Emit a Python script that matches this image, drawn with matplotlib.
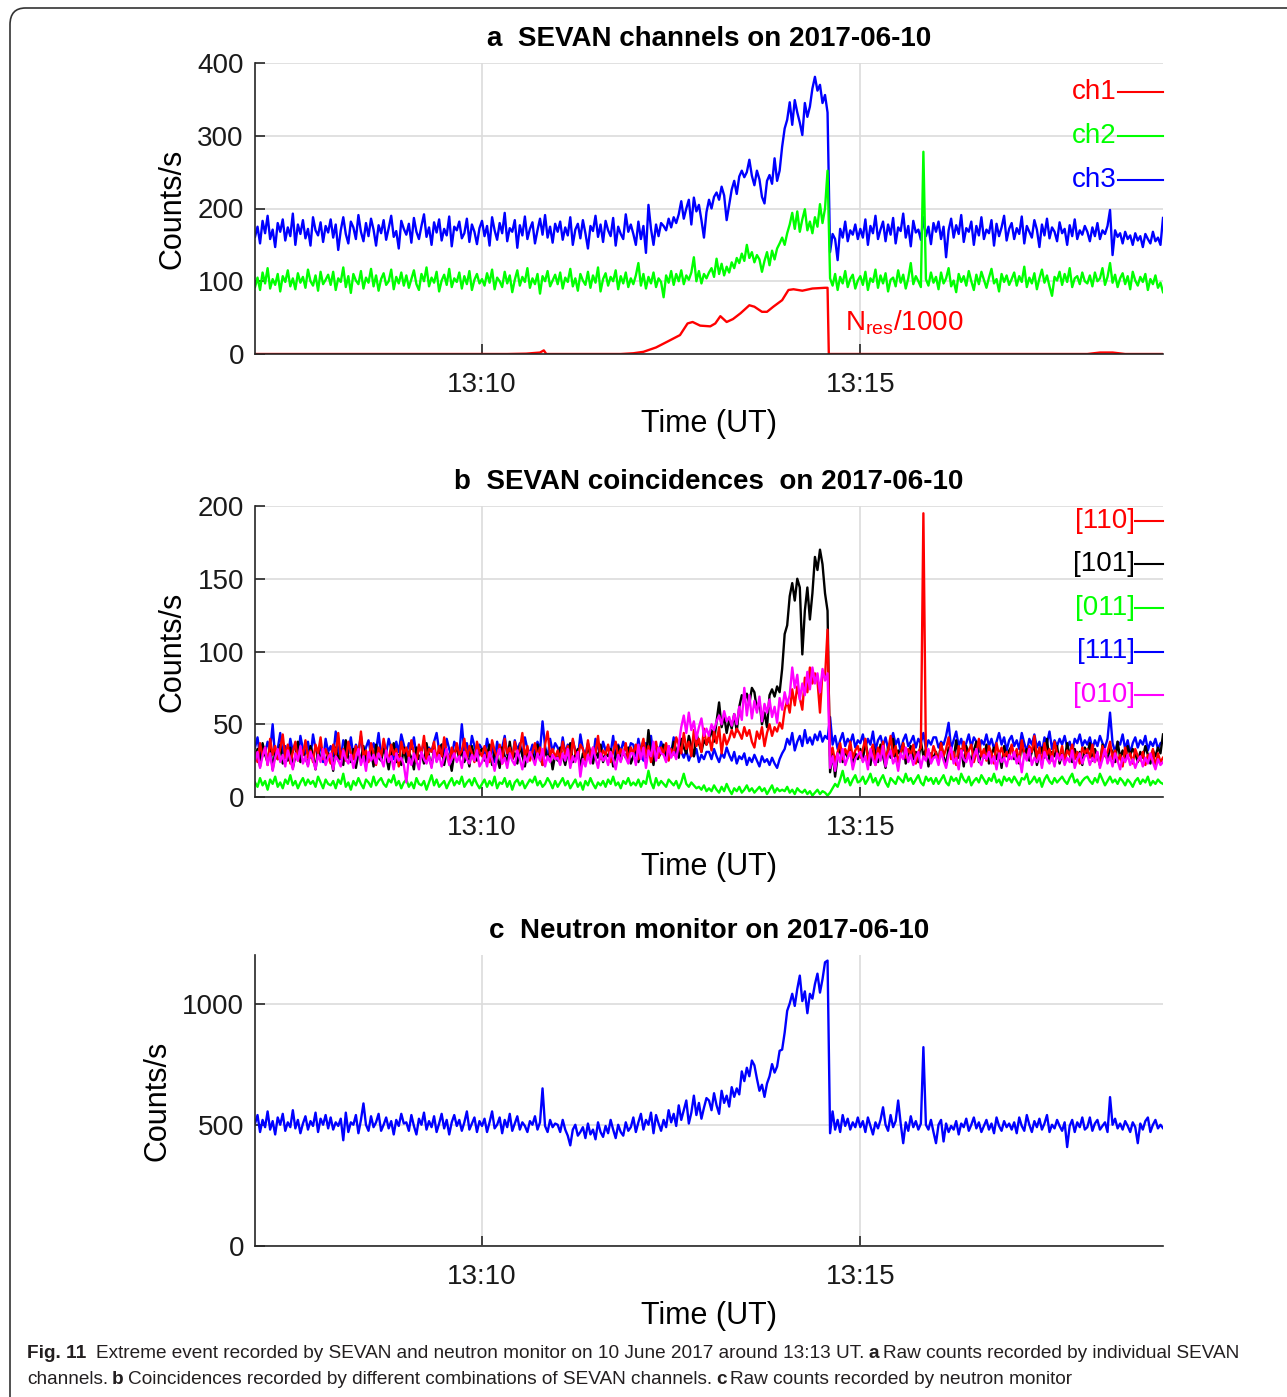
import numpy as np
import matplotlib
matplotlib.use('Agg')
import matplotlib.pyplot as plt
from matplotlib.patches import FancyBboxPatch

plt.rcParams['font.family'] = ['Liberation Sans', 'DejaVu Sans']

W, H = 1287, 1397

# seconds after 13:07:00 UT, 2 s bins (one row below = one minute)
t = np.arange(0, 721, 2)

# --- panel a: SEVAN channels ---
ch3 = [
    161, 175, 152, 183, 166, 190, 158, 171, 147, 180, 168, 185, 156, 174, 162, 193, 150, 178, 165, 184, 159, 172, 149, 188, 170, 163, 181, 154, 176, 167,
    185, 160, 178, 143, 170, 188, 165, 152, 182, 174, 158, 191, 168, 155, 180, 162, 186, 171, 149, 177, 166, 184, 157, 173, 190, 161, 169, 145, 183, 172,
    164, 179, 153, 187, 168, 158, 176, 192, 161, 174, 150, 181, 167, 185, 156, 172, 163, 189, 148, 175, 170, 182, 159, 166, 186, 154, 178, 168, 151, 173,
    183, 162, 176, 149, 188, 170, 157, 180, 166, 194, 155, 173, 168, 184, 146, 177, 163, 189, 158, 172, 181, 152, 170, 186, 164, 191, 160, 175, 153, 179,
    168, 182, 157, 174, 163, 188, 150, 171, 179, 159, 184, 166, 145, 176, 169, 190, 161, 178, 154, 183, 170, 162, 187, 149, 175, 165, 158, 192, 168, 178,
    165, 150, 182, 158, 176, 139, 205, 172, 150, 178, 162, 180, 176, 170, 186, 174, 188, 180, 192, 210, 186, 200, 212, 178, 215, 196, 205, 184, 160, 195,
    212, 200, 216, 222, 212, 230, 218, 184, 205, 226, 238, 220, 244, 252, 243, 250, 267, 245, 232, 252, 240, 216, 207, 238, 246, 234, 269, 238, 252, 285,
    310, 322, 346, 315, 349, 332, 318, 301, 345, 326, 340, 365, 381, 362, 370, 345, 356, 332, 140, 165, 158, 129, 172, 160, 182, 155, 170, 164, 178, 158,
    172, 160, 185, 150, 176, 166, 190, 158, 171, 182, 155, 178, 164, 187, 152, 174, 169, 193, 160, 176, 148, 183, 167, 171, 157, 188, 162, 175, 151, 180,
    168, 182, 158, 175, 133, 170, 186, 160, 177, 165, 191, 154, 173, 168, 182, 150, 176, 163, 188, 158, 171, 166, 184, 149, 179, 162, 174, 190, 156, 172,
    180, 158, 173, 165, 189, 152, 176, 168, 160, 184, 171, 147, 178, 163, 186, 159, 174, 168, 155, 181, 166, 172, 150, 177, 162, 185, 158, 170, 164, 176,
    168, 155, 174, 162, 180, 158, 170, 165, 176, 198, 136, 170, 161, 166, 152, 168, 158, 163, 150, 166, 156, 162, 147, 165, 158, 152, 168, 155, 160, 150,
    187,
]
ch2 = [
    92, 105, 88, 112, 97, 118, 90, 103, 95, 110, 86, 107, 99, 115, 93, 104, 89, 111, 98, 106, 91, 116, 100, 94, 108, 87, 113, 96, 102, 109,
    95, 113, 88, 104, 99, 119, 92, 107, 84, 110, 101, 96, 114, 90, 105, 98, 117, 93, 108, 87, 103, 111, 95, 100, 116, 89, 106, 97, 112, 94,
    108, 91, 103, 115, 96, 88, 110, 100, 119, 93, 105, 98, 113, 86, 101, 109, 95, 117, 92, 104, 99, 112, 90, 107, 96, 114, 88, 102, 110, 97,
    103, 94, 111, 98, 116, 89, 105, 100, 92, 113, 97, 108, 85, 102, 115, 94, 106, 99, 118, 91, 104, 96, 110, 83, 107, 100, 114, 93, 101, 109,
    96, 112, 90, 105, 99, 117, 93, 104, 87, 110, 101, 95, 113, 91, 108, 98, 119, 86, 103, 111, 94, 106, 100, 115, 89, 107, 97, 112, 92, 104,
    96, 108, 125, 94, 110, 90, 106, 97, 112, 92, 104, 99, 78, 108, 98, 114, 95, 110, 100, 115, 96, 108, 102, 112, 133, 100, 114, 97, 110, 104,
    112, 118, 106, 131, 110, 124, 108, 120, 112, 126, 118, 132, 125, 138, 128, 150, 132, 140, 126, 136, 130, 113, 128, 140, 122, 142, 130, 145, 152, 160,
    150, 166, 178, 194, 172, 196, 168, 185, 199, 170, 182, 166, 188, 175, 206, 180, 200, 252, 104, 94, 110, 88, 106, 97, 114, 92, 103, 109, 90, 101,
    107, 95, 113, 88, 104, 99, 116, 91, 108, 97, 111, 86, 102, 105, 93, 115, 98, 109, 90, 104, 125, 96, 107, 100, 92, 278, 103, 94, 112, 98,
    106, 89, 112, 97, 104, 118, 93, 101, 85, 110, 99, 107, 94, 114, 100, 88, 109, 96, 113, 102, 91, 105, 117, 97, 103, 86, 110, 99, 108, 95,
    103, 112, 94, 107, 99, 120, 92, 105, 97, 111, 89, 104, 116, 98, 108, 93, 80, 106, 101, 113, 95, 110, 99, 118, 92, 104, 107, 96, 112, 100,
    97, 108, 93, 112, 100, 104, 118, 95, 106, 125, 98, 109, 92, 104, 111, 96, 107, 89, 113, 101, 94, 106, 99, 110, 88, 103, 96, 108, 91, 98,
    85,
]
# N_res / 1000, sampled at its break points
nres_t = [0, 200, 215, 226, 229, 231, 290, 300, 308, 318, 327, 337, 343, 347, 353, 361, 365, 369, 374,
          379, 385, 392, 396, 402, 406, 411, 418, 423, 427, 434, 442, 452, 454, 455, 660, 670, 680, 690, 720]
nres_v = [0, 0, 0.5, 2, 5, 0, 0, 1, 3, 9, 17, 26, 42, 44, 39, 38, 42, 52, 44,
          48, 56, 67, 65, 58, 58, 65, 74, 88, 89, 87, 90, 91, 91, 0, 0, 2, 2, 0, 0]

# --- panel b: coincidences ---
c110 = [
    31, 24, 37, 28, 34, 22, 40, 29, 35, 26, 33, 43, 27, 36, 23, 31, 38, 25, 34, 29, 39, 27, 32, 24, 36, 30, 41, 26, 33, 28,
    23, 36, 29, 44, 27, 33, 25, 38, 30, 26, 35, 29, 45, 28, 32, 24, 37, 30, 22, 34, 28, 40, 31, 25, 36, 29, 33, 21, 38, 30,
    34, 27, 39, 30, 24, 36, 29, 42, 26, 33, 31, 38, 25, 35, 28, 41, 30, 23, 34, 27, 37, 29, 32, 40, 26, 35, 30, 24, 38, 31,
    28, 35, 30, 24, 39, 32, 27, 36, 23, 40, 30, 34, 26, 38, 29, 33, 44, 27, 35, 25, 31, 37, 28, 34, 22, 36, 45, 29, 33, 27,
    32, 26, 38, 29, 35, 23, 40, 30, 27, 36, 33, 25, 39, 28, 34, 30, 42, 26, 32, 29, 36, 24, 31, 38, 27, 33, 29, 37, 25, 34,
    30, 36, 26, 33, 40, 28, 35, 24, 32, 38, 27, 34, 30, 37, 25, 33, 29, 41, 36, 30, 44, 33, 38, 28, 46, 35, 40, 31, 47, 36,
    42, 32, 45, 37, 48, 30, 43, 36, 40, 46, 41, 47, 44, 40, 48, 42, 46, 38, 34, 45, 40, 48, 35, 44, 50, 42, 48, 45, 51, 47,
    60, 66, 58, 74, 63, 76, 68, 60, 82, 72, 89, 78, 85, 80, 58, 86, 82, 115, 28, 34, 24, 31, 37, 26, 33, 29, 38, 27, 32, 35,
    27, 33, 40, 25, 31, 36, 22, 34, 29, 38, 26, 32, 42, 28, 35, 24, 30, 37, 27, 33, 29, 36, 23, 31, 34, 195, 28, 32, 26, 35,
    30, 24, 37, 28, 33, 41, 26, 31, 22, 35, 29, 38, 27, 32, 36, 24, 30, 40, 28, 33, 25, 35, 30, 23, 37, 29, 34, 27, 31, 26,
    36, 28, 33, 24, 39, 30, 26, 35, 31, 42, 27, 34, 22, 37, 29, 33, 25, 38, 30, 28, 35, 24, 32, 29, 36, 26, 31, 23, 34, 30,
    33, 27, 36, 24, 30, 22, 35, 28, 31, 38, 26, 32, 24, 29, 21, 34, 27, 30, 23, 33, 28, 25, 31, 22, 29, 26, 33, 20, 30, 24,
    27,
]
c101 = [
    27, 33, 21, 37, 29, 24, 35, 19, 31, 26, 36, 23, 30, 25, 34, 20, 28, 38, 24, 32, 27, 22, 35, 29, 19, 33, 26, 31, 23, 30,
    29, 18, 34, 25, 31, 22, 39, 27, 24, 33, 20, 30, 26, 35, 23, 29, 32, 21, 36, 27, 25, 33, 28, 19, 31, 37, 24, 29, 22, 34,
    24, 31, 27, 19, 34, 26, 30, 23, 37, 28, 21, 33, 25, 29, 36, 22, 31, 27, 18, 30, 34, 26, 32, 24, 29, 21, 35, 28, 25, 31,
    33, 25, 29, 36, 22, 31, 27, 20, 34, 28, 24, 38, 26, 30, 23, 35, 29, 21, 32, 27, 30, 24, 36, 28, 22, 33, 26, 31, 19, 29,
    25, 34, 28, 22, 31, 37, 24, 29, 33, 20, 30, 26, 35, 28, 23, 32, 27, 36, 24, 30, 28, 33, 21, 29, 35, 25, 31, 27, 34, 23,
    28, 34, 24, 32, 38, 26, 46, 30, 22, 35, 27, 31, 36, 25, 33, 29, 38, 32, 27, 40, 34, 30, 42, 35, 28, 44, 37, 31, 39, 36,
    40, 46, 38, 52, 65, 48, 56, 44, 53, 47, 57, 45, 62, 70, 66, 71, 64, 75, 72, 60, 66, 50, 58, 48, 70, 74, 69, 76, 72, 88,
    112, 118, 138, 147, 135, 150, 144, 98, 128, 144, 122, 140, 165, 156, 170, 160, 140, 128, 17, 30, 14, 28, 34, 24, 32, 27, 36, 22, 30, 26,
    33, 25, 38, 29, 22, 35, 31, 24, 36, 28, 20, 34, 27, 40, 25, 32, 29, 37, 23, 30, 35, 26, 31, 24, 38, 28, 33, 21, 30, 27,
    31, 24, 37, 28, 22, 34, 30, 26, 39, 27, 33, 21, 35, 29, 25, 32, 38, 24, 30, 27, 36, 23, 29, 34, 26, 31, 20, 35, 28, 32,
    35, 26, 30, 23, 38, 28, 33, 25, 31, 36, 22, 29, 34, 27, 40, 24, 31, 28, 35, 23, 30, 26, 37, 29, 24, 33, 27, 31, 22, 34,
    30, 37, 25, 33, 28, 22, 36, 29, 26, 34, 31, 24, 38, 27, 32, 25, 35, 29, 33, 30, 24, 31, 27, 35, 29, 23, 32, 28, 34, 30,
    43,
]
c011 = [
    10, 7, 13, 8, 11, 5, 12, 9, 14, 7, 10, 6, 12, 9, 15, 8, 11, 6, 10, 13, 8, 12, 9, 11, 7, 14, 10, 6, 12, 9,
    8, 11, 6, 12, 9, 16, 7, 10, 5, 11, 8, 13, 9, 6, 12, 10, 7, 14, 8, 11, 13, 9, 7, 12, 10, 15, 8, 11, 6, 10,
    12, 7, 10, 6, 13, 9, 8, 11, 5, 10, 15, 8, 12, 7, 9, 11, 6, 10, 13, 8, 11, 9, 14, 7, 10, 12, 8, 13, 9, 6,
    9, 12, 7, 11, 8, 14, 6, 10, 9, 13, 7, 11, 5, 10, 12, 8, 11, 6, 9, 12, 10, 14, 8, 11, 7, 9, 13, 10, 6, 11,
    7, 10, 13, 8, 11, 6, 9, 12, 7, 10, 5, 11, 8, 13, 9, 6, 10, 8, 11, 7, 12, 9, 14, 8, 10, 6, 11, 9, 13, 8,
    10, 8, 12, 7, 11, 9, 18, 10, 6, 13, 8, 11, 9, 7, 12, 10, 8, 11, 6, 10, 16, 9, 7, 10, 8, 6, 7, 5, 8, 4,
    6, 4, 8, 5, 3, 7, 4, 9, 5, 2, 6, 4, 7, 3, 5, 8, 4, 6, 3, 5, 7, 4, 6, 2, 5, 8, 3, 6, 4, 5,
    4, 7, 3, 5, 2, 6, 4, 3, 5, 2, 4, 1, 3, 5, 2, 4, 3, 1, 3, 6, 9, 7, 12, 18, 10, 13, 8, 12, 15, 10,
    11, 14, 9, 12, 16, 10, 13, 8, 12, 15, 10, 7, 13, 11, 9, 14, 12, 10, 16, 11, 13, 9, 12, 15, 10, 8, 14, 11, 13, 9,
    13, 9, 12, 15, 10, 8, 14, 11, 13, 9, 16, 12, 10, 14, 8, 11, 13, 10, 15, 12, 9, 13, 11, 16, 10, 12, 8, 14, 11, 13,
    10, 14, 11, 8, 13, 12, 16, 9, 11, 14, 10, 13, 7, 12, 15, 11, 9, 13, 10, 12, 14, 11, 9, 13, 16, 10, 12, 8, 11, 13,
    14, 11, 9, 13, 10, 16, 12, 8, 11, 14, 10, 12, 9, 13, 11, 8, 12, 10, 7, 11, 13, 9, 12, 10, 14, 8, 11, 9, 12, 10,
    9,
]
c111 = [
    34, 41, 28, 36, 30, 38, 32, 50, 27, 33, 44, 29, 35, 27, 40, 31, 37, 26, 42, 33, 30, 38, 27, 43, 33, 29, 36, 24, 40, 31,
    35, 28, 45, 32, 26, 39, 34, 30, 41, 28, 36, 31, 42, 27, 34, 39, 29, 37, 32, 44, 28, 35, 30, 40, 33, 26, 38, 31, 43, 36,
    29, 37, 33, 41, 28, 35, 30, 39, 26, 34, 31, 38, 44, 32, 36, 29, 40, 33, 27, 38, 34, 30, 50, 31, 37, 28, 42, 35, 29, 36,
    33, 27, 40, 31, 36, 24, 38, 30, 34, 42, 29, 35, 26, 39, 32, 37, 28, 41, 33, 30, 36, 29, 38, 32, 52, 35, 27, 40, 31, 37,
    34, 28, 41, 30, 36, 25, 39, 32, 27, 43, 33, 29, 37, 31, 26, 40, 34, 28, 38, 32, 35, 30, 42, 27, 36, 31, 38, 33, 29, 37,
    36, 28, 40, 31, 25, 37, 30, 42, 27, 34, 29, 38, 33, 26, 35, 30, 41, 28, 34, 31, 27, 32, 25, 30, 28, 33, 24, 29, 26, 31,
    31, 26, 33, 28, 24, 30, 27, 34, 29, 25, 31, 23, 28, 26, 30, 22, 27, 24, 29, 25, 21, 28, 24, 26, 22, 27, 23, 20, 26, 30,
    33, 40, 36, 44, 32, 38, 42, 35, 46, 37, 41, 36, 43, 39, 45, 38, 42, 40, 55, 36, 42, 33, 39, 44, 35, 40, 37, 43, 34, 39,
    37, 43, 34, 40, 36, 45, 32, 39, 42, 35, 41, 33, 38, 44, 36, 40, 31, 39, 43, 35, 38, 42, 34, 40, 37, 44, 33, 39, 36, 41,
    41, 34, 38, 36, 42, 51, 33, 39, 45, 35, 40, 32, 37, 43, 34, 41, 38, 31, 39, 36, 43, 35, 40, 33, 38, 44, 36, 41, 32, 39,
    42, 35, 39, 33, 44, 37, 31, 40, 36, 43, 34, 38, 30, 41, 37, 45, 33, 39, 35, 40, 36, 42, 34, 38, 31, 40, 37, 43, 35, 39,
    36, 41, 33, 39, 35, 42, 37, 34, 40, 58, 37, 31, 38, 36, 43, 33, 39, 30, 37, 41, 34, 39, 36, 42, 32, 38, 35, 40, 33, 37,
    38,
]
c010 = [
    25, 31, 20, 28, 34, 22, 30, 18, 27, 33, 24, 29, 21, 32, 26, 19, 30, 25, 35, 23, 28, 21, 31, 26, 19, 29, 24, 33, 22, 27,
    30, 19, 28, 25, 21, 32, 26, 23, 29, 20, 27, 33, 22, 28, 18, 31, 25, 29, 23, 30, 26, 21, 32, 24, 28, 19, 30, 25, 27, 22,
    10, 27, 22, 30, 25, 19, 31, 26, 23, 28, 20, 32, 24, 29, 21, 27, 33, 22, 26, 30, 24, 28, 20, 31, 26, 23, 29, 25, 32, 21,
    24, 29, 21, 31, 26, 18, 28, 33, 23, 27, 20, 30, 25, 22, 32, 26, 19, 28, 24, 31, 27, 22, 30, 25, 33, 21, 28, 24, 29, 26,
    27, 22, 30, 25, 33, 20, 28, 24, 31, 14, 26, 21, 29, 23, 34, 27, 20, 30, 25, 28, 22, 31, 26, 19, 29, 24, 32, 27, 23, 30,
    30, 22, 36, 26, 34, 20, 32, 28, 38, 25, 34, 30, 29, 24, 35, 27, 31, 26, 36, 48, 56, 44, 58, 46, 52, 40, 48, 54, 42, 47,
    42, 50, 46, 52, 56, 50, 59, 52, 55, 49, 57, 50, 62, 53, 75, 56, 70, 54, 66, 58, 69, 52, 64, 58, 67, 55, 62, 51, 68, 60,
    72, 64, 70, 89, 75, 84, 67, 78, 70, 86, 74, 89, 78, 85, 72, 88, 80, 85, 20, 28, 18, 30, 24, 33, 22, 27, 31, 19, 26, 29,
    31, 24, 28, 19, 33, 26, 22, 30, 25, 35, 21, 28, 32, 23, 27, 18, 30, 26, 34, 24, 29, 22, 27, 31, 20, 28, 25, 33, 23, 27,
    28, 22, 31, 25, 20, 29, 34, 23, 27, 19, 32, 26, 24, 30, 21, 28, 33, 25, 22, 29, 26, 31, 23, 28, 19, 30, 24, 27, 21, 29,
    26, 31, 23, 28, 17, 30, 25, 33, 22, 27, 24, 29, 20, 31, 26, 23, 28, 21, 30, 25, 29, 22, 27, 24, 32, 20, 26, 30, 23, 28,
    29, 22, 27, 24, 31, 20, 26, 33, 23, 28, 21, 30, 25, 19, 27, 24, 29, 22, 26, 20, 25, 28, 21, 27, 23, 30, 24, 19, 26, 22,
    24,
]

# --- panel c: neutron monitor ---
nm = [
    505, 540, 470, 520, 490, 555, 480, 515, 460, 530, 500, 545, 475, 510, 490, 560, 485, 520, 465, 505, 535, 480, 515, 495, 550, 470, 525, 500, 540, 485,
    530, 480, 510, 495, 525, 436, 550, 470, 510, 500, 540, 465, 520, 588, 500, 475, 535, 490, 510, 545, 475, 500, 530, 485, 515, 460, 520, 495, 545, 505,
    510, 475, 540, 495, 460, 525, 500, 550, 480, 515, 490, 535, 470, 505, 545, 485, 520, 460, 510, 540, 495, 520, 475, 510, 555, 480, 505, 530, 470, 515,
    495, 525, 470, 510, 555, 485, 500, 530, 465, 520, 490, 545, 475, 505, 535, 480, 510, 495, 470, 515, 500, 535, 480, 510, 650, 495, 470, 520, 490, 505,
    500, 470, 520, 480, 455, 415, 480, 500, 455, 470, 490, 445, 505, 460, 480, 440, 510, 470, 450, 495, 465, 520, 480, 445, 500, 470, 455, 510, 475, 490,
    530, 470, 510, 545, 480, 520, 500, 550, 465, 540, 505, 475, 520, 490, 560, 510, 545, 495, 580, 520, 560, 600, 505, 550, 620, 540, 590, 525, 570, 610,
    600, 560, 630, 580, 545, 640, 590, 620, 575, 655, 615, 650, 625, 720, 680, 735, 700, 765, 745, 690, 640, 665, 615, 670, 700, 750, 715, 740, 805, 810,
    880, 970, 1000, 1040, 990, 1060, 1115, 1010, 1050, 960, 1040, 1020, 1080, 1123, 1045, 1100, 1170, 1177, 465, 555, 480, 520, 470, 540, 495, 525, 480, 510, 490, 530,
    490, 515, 470, 530, 495, 460, 510, 485, 520, 572, 500, 475, 540, 490, 515, 600, 505, 424, 510, 475, 535, 490, 515, 480, 505, 820, 500, 480, 520, 470,
    424, 500, 520, 431, 505, 470, 495, 480, 515, 460, 505, 490, 525, 475, 500, 530, 485, 510, 470, 495, 520, 480, 505, 465, 530, 495, 475, 515, 490, 505,
    480, 510, 465, 530, 495, 475, 540, 500, 470, 515, 490, 525, 480, 505, 540, 470, 500, 485, 520, 495, 475, 510, 408, 495, 520, 470, 510, 490, 530, 480,
    490, 530, 475, 505, 520, 480, 495, 510, 470, 614, 500, 525, 485, 505, 480, 515, 495, 470, 510, 490, 424, 505, 480, 515, 530, 470, 500, 520, 485, 500,
    486,
]

for name, s in [('ch3', ch3), ('ch2', ch2), ('c110', c110), ('c101', c101),
                ('c011', c011), ('c111', c111), ('c010', c010), ('nm', nm)]:
    assert len(s) == len(t), (name, len(s))

RED, GREEN, BLUE, MAGENTA = '#ff0000', '#00ff00', '#0000ff', '#ff00ff'
AX_COLOR = '#262626'
LW = 1.7


def setup_axes(ax, ylim, yticks, title):
    ax.set_xlim(0, 720)
    ax.set_ylim(*ylim)
    ax.set_xticks([180, 480])
    ax.set_xticklabels(['13:10', '13:15'])
    ax.set_yticks(yticks)
    for side in ('top', 'right'):
        ax.spines[side].set_visible(False)
    for side in ('left', 'bottom'):
        ax.spines[side].set_color(AX_COLOR)
        ax.spines[side].set_linewidth(1.2)
    ax.tick_params(direction='in', length=7, width=1.2, colors=AX_COLOR,
                   labelcolor='#1a1a1a', labelsize=20)
    ax.tick_params(axis='x', pad=13)
    ax.tick_params(axis='y', pad=8)
    ax.grid(True, color='#dcdcdc', linewidth=1.2)
    ax.set_axisbelow(True)
    ax.set_xlabel('Time (UT)', fontsize=22, labelpad=8)
    ax.set_ylabel('Counts/s', fontsize=22, labelpad=7)
    ax.set_title(title, fontsize=20, fontweight='bold', pad=12)


def channel_key(ax, labels, colors, ys, x_text, x_line):
    # colored name followed by a short line segment running to the right edge
    for lab, col, y in zip(labels, colors, ys):
        ax.text(x_text, y, lab, color=col, fontsize=20, ha='right', va='center')
        ax.plot([x_line, 720], [y, y], color=col, lw=1.5, clip_on=False)


fig = plt.figure(figsize=(W / 100, H / 100), dpi=100)

left, width, height = 255 / W, 908 / W, 291 / H
ax_a = fig.add_axes([left, 1 - 354 / H, width, height])
ax_b = fig.add_axes([left, 1 - 797 / H, width, height])
ax_c = fig.add_axes([left, 1 - 1246 / H, width, height])

# a
setup_axes(ax_a, (0, 400), [0, 100, 200, 300, 400], 'a  SEVAN channels on 2017-06-10')
ax_a.plot(t, ch3, color=BLUE, lw=LW)
ax_a.plot(t, ch2, color=GREEN, lw=LW)
ax_a.plot(nres_t, nres_v, color=RED, lw=LW)
ax_a.text(468, 33, r'N$_{\mathregular{res}}$/1000', color=RED, fontsize=20, va='baseline')
channel_key(ax_a, ['ch1', 'ch2', 'ch3'], [RED, GREEN, BLUE], [360, 300, 239], 683, 684)

# b
setup_axes(ax_b, (0, 200), [0, 50, 100, 150, 200], 'b  SEVAN coincidences  on 2017-06-10')
ax_b.plot(t, c111, color=BLUE, lw=LW)
ax_b.plot(t, c101, color='black', lw=LW)
ax_b.plot(t, c110, color=RED, lw=LW)
ax_b.plot(t, c011, color=GREEN, lw=LW)
ax_b.plot(t, c010, color=MAGENTA, lw=LW)
channel_key(ax_b, ['[110]', '[101]', '[011]', '[111]', '[010]'],
            [RED, 'black', GREEN, BLUE, MAGENTA], [190, 160, 130, 100, 70], 698, 698)

# c
setup_axes(ax_c, (0, 1200), [0, 500, 1000], 'c  Neutron monitor on 2017-06-10')
ax_c.plot(t, nm, color=BLUE, lw=LW)

# page frame, open to the right and bottom
frame = FancyBboxPatch((10 / W, -0.05), 1.1, 1 - 8 / H + 0.05,
                       boxstyle='round,pad=0,rounding_size=0.012',
                       transform=fig.transFigure, fill=False,
                       edgecolor='#333333', linewidth=1.2, clip_on=False)
fig.patches.append(frame)

# caption with bold run-ins
renderer = fig.canvas.get_renderer()
cap_family = ['Liberation Sans Narrow', 'Liberation Sans', 'DejaVu Sans']


def caption_line(y_px, runs, x0=27, size=13.7):
    x = x0
    for text, bold, gap in runs:
        x += gap
        txt = fig.text(x / W, 1 - y_px / H, text, fontsize=size, family=cap_family,
                       fontweight='bold' if bold else 'normal', color='#231f20',
                       va='center', ha='left')
        x += txt.get_window_extent(renderer).width


caption_line(1353, [('Fig. 11', True, 0),
                    ('Extreme event recorded by SEVAN and neutron monitor on 10 June 2017 '
                     'around 13:13 UT.', False, 10),
                    ('a', True, 4),
                    ('Raw counts recorded by individual SEVAN', False, 4)])
caption_line(1379, [('channels.', False, 0),
                    ('b', True, 4),
                    ('Coincidences recorded by different combinations of SEVAN channels.', False, 4),
                    ('c', True, 4),
                    ('Raw counts recorded by neutron monitor', False, 4)])

fig.savefig('out.png', dpi=100)
